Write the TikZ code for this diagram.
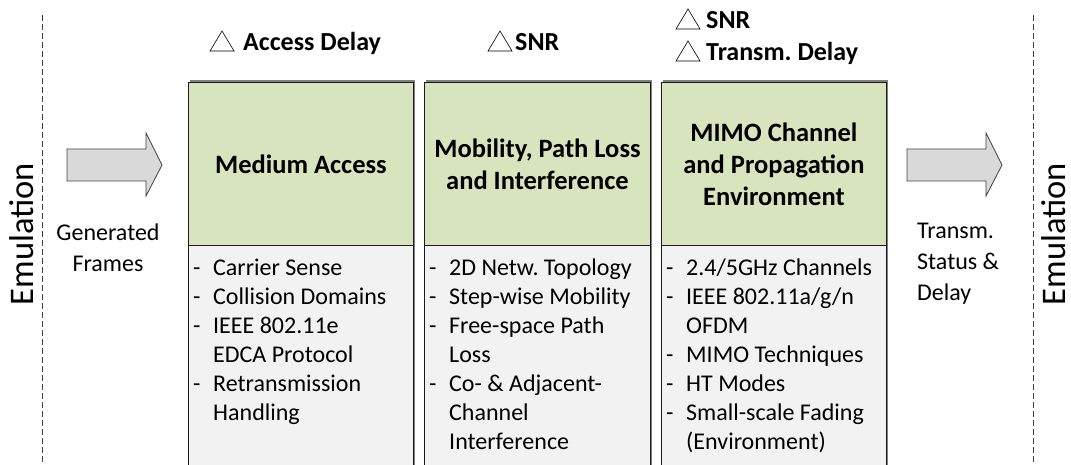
\documentclass[tikz,border=0pt]{standalone}
\usepackage{fontspec}
\setmainfont{Carlito}
\definecolor{boxgreen}{HTML}{D7E4BD}
\definecolor{boxgray}{HTML}{F2F2F2}
\definecolor{arrowfill}{HTML}{D9D9D9}
\definecolor{edgecol}{HTML}{1A1A1A}
\definecolor{shadecol}{HTML}{808080}
\definecolor{dashcol}{HTML}{404040}

% list lines: a hyphen followed by the item, continuation lines indented
\newcommand\bulletline[1]{\makebox[20pt][l]{-}#1}
\newcommand\contline[1]{\hspace*{20pt}#1}

\tikzset{
  stage/.style={draw=edgecol, line width=0.9pt, fill=boxgreen, inner sep=0pt,
    anchor=north west, align=center,
    font=\bfseries\fontsize{26.5}{32}\selectfont},
  details/.style={draw=edgecol, line width=0.9pt, fill=boxgray, inner sep=0pt,
    anchor=north west},
  % multi-line nodes: the base anchor sits on the last line
  listtext/.style={inner sep=0pt, anchor=base west, align=left,
    font=\fontsize{24}{29}\selectfont},
  header/.style={inner sep=0pt, anchor=base west,
    font=\bfseries\fontsize{26}{30}\selectfont},
  sidetext/.style={inner sep=0pt, font=\fontsize{24}{31}\selectfont},
  emul/.style={inner sep=0pt, rotate=90, font=\fontsize{34.5}{40}\selectfont},
  blockarrow/.style={draw=dashcol, line width=0.8pt, fill=arrowfill},
  delta/.style={draw=black, line width=0.6pt, fill=white},
  border/.style={draw=dashcol, line width=0.9pt, dash pattern=on 6pt off 3pt},
}

\begin{document}
\frenchspacing
\begin{tikzpicture}[x=1pt,y=-1pt]
\useasboundingbox (0,0) rectangle (1071,465);

% emulation boundaries
\coordinate (lt) at (42,15);  \coordinate (lb) at (42,465);
\coordinate (rt) at (1033,15); \coordinate (rb) at (1033,465);
\draw[border] (lt) -- (lb);
\draw[border] (rt) -- (rb);
\node[emul] (emL) at (22,234) {Emulation};
\node[emul] (emR) at (1054,234) {Emulation};

% input / output block arrows
\draw[blockarrow] (67,149) -- (146,149) -- (146,133) -- (162,165)
  -- (146,196) -- (146,181) -- (67,181) -- cycle;
\draw[blockarrow] (907,149) -- (986,149) -- (986,133) -- (1002,165)
  -- (986,196) -- (986,181) -- (907,181) -- cycle;
\node[sidetext, align=center] (gen) at (108,248) {Generated\\Frames};
\node[sidetext, align=left, anchor=west] (status) at (917,264) {Transm.\\Status \&\\Delay};

% soft shadows behind the three stages
\foreach \l/\r in {188/413, 424/650, 661/886}
  \fill[shadecol] (\l+1.5,80.5) rectangle (\r+1.5,470);

% stage 1
\node[stage, minimum width=225pt, minimum height=163pt] (s1) at (188,82) {Medium Access};
\node[details, minimum width=225pt, minimum height=225pt] (d1) at (188,245) {};
\node[listtext] (l1) at (193,420) {%
  \bulletline{Carrier Sense}\\
  \bulletline{Collision Domains}\\
  \bulletline{IEEE 802.11e}\\
  \contline{EDCA Protocol}\\
  \bulletline{Retransmission}\\
  \contline{Handling}};

% stage 2
\node[stage, minimum width=226pt, minimum height=163pt] (s2) at (424,82) {Mobility, Path Loss\\and Interference};
\node[details, minimum width=226pt, minimum height=225pt] (d2) at (424,245) {};
\node[listtext] (l2) at (429,449) {%
  \bulletline{2D Netw. Topology}\\
  \bulletline{Step-wise Mobility}\\
  \bulletline{Free-space Path}\\
  \contline{Loss}\\
  \bulletline{Co- \& Adjacent-}\\
  \contline{Channel}\\
  \contline{Interference}};

% stage 3
\node[stage, minimum width=225pt, minimum height=163pt] (s3) at (661,82) {MIMO Channel\\and Propagation\\Environment};
\node[details, minimum width=225pt, minimum height=225pt] (d3) at (661,245) {};
\node[listtext] (l3) at (666,449) {%
  \bulletline{2.4/5GHz Channels}\\
  \bulletline{IEEE 802.11a/g/n}\\
  \contline{OFDM}\\
  \bulletline{MIMO Techniques}\\
  \bulletline{HT Modes}\\
  \bulletline{Small-scale Fading}\\
  \contline{(Environment)}};

% output quantities above each stage
\draw[delta] (210,51) -- (234,51) -- (222,31) -- cycle;
\node[header] (h1) at (243,51) {Access Delay};
\draw[delta] (488,51) -- (512,51) -- (500,31) -- cycle;
\node[header] (h2) at (515,51) {SNR};
\draw[delta] (676,29) -- (700,29) -- (688,9) -- cycle;
\node[header] (h3a) at (706,29) {SNR};
\draw[delta] (676,61) -- (700,61) -- (688,41) -- cycle;
\node[header] (h3b) at (706,61) {Transm. Delay};
\end{tikzpicture}
\end{document}
